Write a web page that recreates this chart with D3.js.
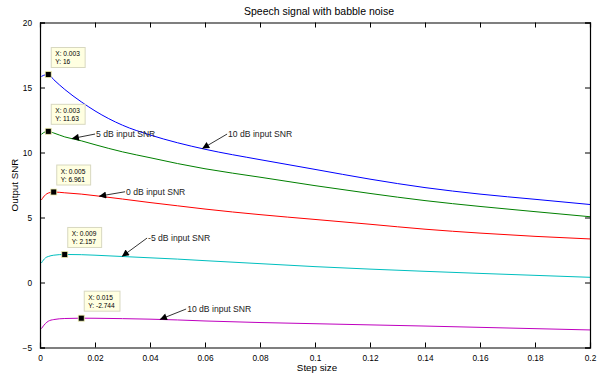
<!DOCTYPE html>
<html>
<head>
<meta charset="utf-8">
<script src="https://cdn.jsdelivr.net/npm/d3@7/dist/d3.min.js"></script>
<style>
  body { margin: 0; background: #fff; }
  svg { font-family: "Liberation Sans", Arial, sans-serif; display: block; }
</style>
</head>
<body>
<script>
// step sizes shared by every curve
const stepSizes = [0.0005, 0.002, 0.003, 0.005, 0.009, 0.015, 0.02, 0.03, 0.04, 0.05, 0.06, 0.08, 0.1, 0.12, 0.14, 0.16, 0.18, 0.2];

// output SNR per input SNR
const snr10 = [15.85, 15.98, 16, 15.6, 14.85, 13.9, 13.2, 12.1, 11.35, 10.75, 10.25, 9.45, 8.7, 7.95, 7.3, 6.8, 6.4, 6.0];
const snr5 = [11.4, 11.6, 11.63, 11.5, 11.2, 10.9, 10.6, 10.05, 9.6, 9.15, 8.75, 8.1, 7.45, 6.85, 6.3, 5.85, 5.45, 5.06];
const snr0 = [6.35, 6.75, 6.88, 6.961, 6.9, 6.8, 6.68, 6.42, 6.15, 5.9, 5.65, 5.22, 4.85, 4.48, 4.1, 3.8, 3.55, 3.35];
const snrM5 = [1.5, 1.9, 2.0, 2.1, 2.157, 2.14, 2.1, 2.0, 1.9, 1.8, 1.68, 1.45, 1.22, 1.03, 0.86, 0.7, 0.55, 0.4];
const snrM10 = [-3.55, -3.15, -2.98, -2.85, -2.77, -2.744, -2.75, -2.78, -2.82, -2.88, -2.96, -3.08, -3.17, -3.26, -3.35, -3.45, -3.55, -3.65];

const seriesColors = ["#0000ff", "#008000", "#ff0000", "#00bfbf", "#bf00bf"];

// data tips
const tipX = [0.003, 0.003, 0.005, 0.009, 0.015];
const tipY = [16, 11.63, 6.961, 2.157, -2.744];
const tipLabelX = ["0.003", "0.003", "0.005", "0.009", "0.015"];
const tipLabelY = ["16", "11.63", "6.961", "2.157", "-2.744"];

// text arrows: label start (data units) and arrow target on the curve
const noteText = ["10 dB input SNR", "5 dB input SNR", "0 dB input SNR", "-5 dB input SNR", "10 dB input SNR"];
const noteX = [0.0684, 0.0204, 0.0313, 0.0393, 0.0535];
const noteY = [11.42, 11.42, 6.98, 3.42, -2.04];
const noteTargetX = [0.059, 0.0116, 0.0215, 0.0298, 0.0436];

const xTicks = [0, 0.02, 0.04, 0.06, 0.08, 0.1, 0.12, 0.14, 0.16, 0.18, 0.2];
const yTicks = [-5, 0, 5, 10, 15, 20];

const W = 612, H = 375;
const m = {left: 40, right: 22, top: 22.5, bottom: 27.5};

const svg = d3.select("body").append("svg").attr("width", W).attr("height", H);

const x = d3.scaleLinear().domain([0, 0.2]).range([m.left, W - m.right]);
const y = d3.scaleLinear().domain([-5, 20]).range([H - m.bottom, m.top]);

const allSeries = [snr10, snr5, snr0, snrM5, snrM10];

//curves
const line = d3.line()
  .x(d => x(d[0]))
  .y(d => y(d[1]))
  .curve(d3.curveMonotoneX);

allSeries.forEach((s, i) => {
  svg.append("path")
    .datum(stepSizes.map((v, j) => [v, s[j]]))
    .attr("fill", "none")
    .attr("stroke", seriesColors[i])
    .attr("stroke-width", 1)
    .attr("d", line);
});

//axes (box with inward ticks)
const tickLen = 5;
const fmtX = d => d === 0 ? "0" : String(d);

const axBottom = svg.append("g").attr("transform", `translate(0,${y(-5)})`)
  .call(d3.axisBottom(x).tickValues(xTicks).tickSize(-tickLen).tickPadding(8).tickFormat(fmtX));
const axTop = svg.append("g").attr("transform", `translate(0,${y(20)})`)
  .call(d3.axisTop(x).tickValues(xTicks).tickSize(-tickLen).tickFormat(""));
const axLeft = svg.append("g").attr("transform", `translate(${x(0)},0)`)
  .call(d3.axisLeft(y).tickValues(yTicks).tickSize(-tickLen).tickPadding(8));
const axRight = svg.append("g").attr("transform", `translate(${x(0.2)},0)`)
  .call(d3.axisRight(y).tickValues(yTicks).tickSize(-tickLen).tickFormat(""));

[axBottom, axTop, axLeft, axRight].forEach(g => {
  g.select(".domain").attr("stroke", "#000").attr("stroke-width", 1.2);
  g.selectAll(".tick line").attr("stroke", "#000");
  g.selectAll("text").attr("font-size", 8.3).attr("fill", "#000")
    .attr("font-family", "'Liberation Sans', Arial, sans-serif");
});

//labels
svg.append("text").attr("x", (x(0) + x(0.2)) / 2 + 4).attr("y", 15)
  .attr("text-anchor", "middle").attr("font-size", 10.5).text("Speech signal with babble noise");
svg.append("text").attr("x", (x(0) + x(0.2)) / 2 + 2).attr("y", 371)
  .attr("text-anchor", "middle").attr("font-size", 9.8).text("Step size");
svg.append("text")
  .attr("transform", `translate(18,${(y(-5) + y(20)) / 2}) rotate(-90)`)
  .attr("text-anchor", "middle").attr("font-size", 9.8).text("Output SNR");

//arrows
svg.append("defs").append("marker")
  .attr("id", "head")
  .attr("viewBox", "0 0 10 10")
  .attr("refX", 10).attr("refY", 5)
  .attr("markerWidth", 9).attr("markerHeight", 7)
  .attr("markerUnits", "userSpaceOnUse")
  .attr("orient", "auto")
  .append("path").attr("d", "M0,0 L10,5 L0,10 Z").attr("fill", "#000");

noteText.forEach((t, i) => {
  const interp = d3.scaleLinear().domain(stepSizes).range(allSeries[i]);
  const tx = x(noteTargetX[i]), ty = y(interp(noteTargetX[i]));
  const lx = x(noteX[i]), ly = y(noteY[i]);
  svg.append("line")
    .attr("x1", lx - 1).attr("y1", ly).attr("x2", tx).attr("y2", ty)
    .attr("stroke", "#000").attr("stroke-width", 0.8)
    .attr("marker-end", "url(#head)");
  svg.append("text").attr("x", lx).attr("y", ly).attr("dy", "0.35em")
    .attr("font-size", 8.6).attr("fill", "#222").text(t);
});

//data tips
tipX.forEach((tx, i) => {
  const px = x(tx), py = y(tipY[i]);
  const g = svg.append("g");
  const l1 = "X: " + tipLabelX[i], l2 = "Y: " + tipLabelY[i];
  const txt = g.append("text").attr("font-size", 6.6).attr("fill", "#000");
  txt.append("tspan").attr("x", px + 7).attr("y", py - 18.5).text(l1);
  txt.append("tspan").attr("x", px + 7).attr("y", py - 10.5).text(l2);
  const bb = txt.node().getBBox();
  g.insert("rect", "text")
    .attr("x", px + 3).attr("y", py - 27)
    .attr("width", bb.width + 9).attr("height", 20)
    .attr("fill", "#ffffe1").attr("stroke", "#d8d8c0").attr("stroke-width", 1);
  svg.append("rect")
    .attr("x", px - 3).attr("y", py - 3).attr("width", 6).attr("height", 6)
    .attr("fill", "#000").attr("stroke", "#f0f0b0").attr("stroke-width", 0.8);
});
</script>
</body>
</html>
